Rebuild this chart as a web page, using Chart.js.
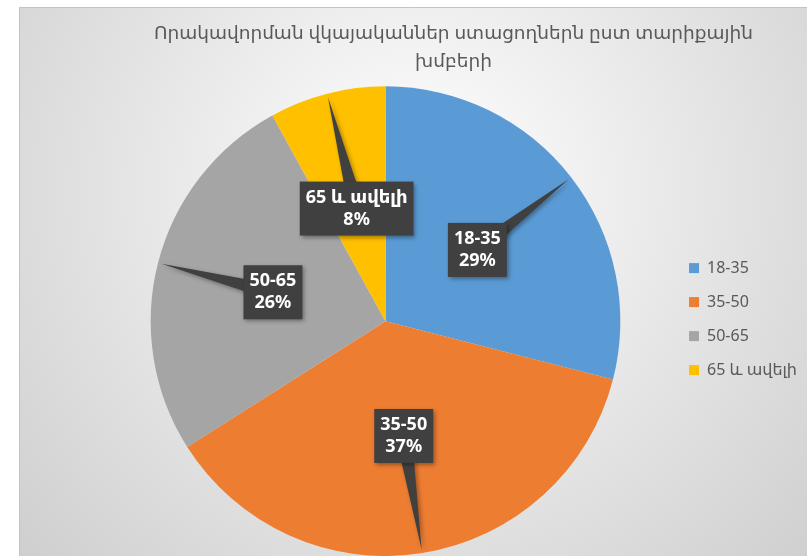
<!DOCTYPE html>
<html lang="hy">
<head>
    <script src="https://cdn.jsdelivr.net/npm/chart.js"></script>
    <meta charset="UTF-8">
    <title>Որակավորման վկայականներ</title>
    <style>
        body { margin: 0; background: #fff; }
        #wrap { width: 807px; height: 556px; }
    </style>
</head>
<body>
    <div id="wrap">
        <canvas id="myChart" width="807" height="556"></canvas>
    </div>
    <script>
        const titleLines = ['Որակավորման վկայականներ ստացողներն ըստ տարիքային', 'խմբերի'];
        const groups = ['18-35', '35-50', '50-65', '65 և ավելի'];
        const shares = [29, 37, 26, 8];
        const colors = ['#5B9BD5', '#ED7D31', '#A5A5A5', '#FFC000'];

        const fontFam = '"Noto Sans", "DejaVu Sans", sans-serif';

        // gray radial background with white margin on the left/top
        const bgPlugin = {
            id: 'bg',
            beforeDraw(chart) {
                const c = chart.ctx;
                const w = chart.width, h = chart.height;
                c.save();
                c.fillStyle = '#ffffff';
                c.fillRect(0, 0, w, h);
                const g = c.createRadialGradient(420, 190, 0, 420, 190, 560);
                g.addColorStop(0, '#ffffff');
                g.addColorStop(1, '#cdcdcd');
                c.fillStyle = g;
                c.fillRect(19, 7, w - 19, h - 7);
                c.strokeStyle = '#c4c4c4';
                c.lineWidth = 1;
                c.beginPath();
                c.moveTo(19.5, h);
                c.lineTo(19.5, 7.5);
                c.lineTo(w, 7.5);
                c.stroke();
                c.restore();
            }
        };

        // dark callout boxes with a pointer to the slice edge
        const calloutPlugin = {
            id: 'callouts',
            afterDatasetsDraw(chart) {
                const c = chart.ctx;
                const arcs = chart.getDatasetMeta(0).data;
                c.save();
                c.font = 'bold 18px ' + fontFam;
                c.textAlign = 'center';
                c.textBaseline = 'middle';
                arcs.forEach((arc, i) => {
                    const p = arc.getProps(['x', 'y', 'startAngle', 'endAngle', 'outerRadius']);
                    const mid = (p.startAngle + p.endAngle) / 2;
                    const cos = Math.cos(mid), sin = Math.sin(mid);
                    const bx = p.x + cos * p.outerRadius * 0.495;
                    const by = p.y + sin * p.outerRadius * 0.495;
                    const tx = p.x + cos * p.outerRadius * 0.985;
                    const ty = p.y + sin * p.outerRadius * 0.985;
                    const lines = [groups[i], shares[i] + '%'];
                    const tw = Math.max(...lines.map(s => c.measureText(s).width));
                    const lh = 22;
                    const bw = tw + 12, bh = lines.length * lh + 10;

                    c.shadowColor = 'rgba(0,0,0,0.35)';
                    c.shadowBlur = 4;
                    c.shadowOffsetX = 2;
                    c.shadowOffsetY = 2;
                    c.fillStyle = '#404040';
                    // pointer
                    const half = 8;
                    c.beginPath();
                    c.moveTo(bx - sin * half, by + cos * half);
                    c.lineTo(tx, ty);
                    c.lineTo(bx + sin * half, by - cos * half);
                    c.closePath();
                    c.fill();
                    // box
                    c.fillRect(bx - bw / 2, by - bh / 2, bw, bh);
                    c.shadowColor = 'transparent';

                    c.fillStyle = '#ffffff';
                    lines.forEach((s, k) => {
                        c.fillText(s, bx, by - bh / 2 + 5 + lh / 2 + k * lh);
                    });
                });
                c.restore();
            }
        };

        new Chart(document.getElementById('myChart'), {
            type: 'pie',
            data: {
                labels: groups,
                datasets: [{
                    data: shares,
                    backgroundColor: colors,
                    borderWidth: 0
                }]
            },
            options: {
                responsive: false,
                animation: false,
                layout: {
                    padding: { top: 7, left: 100, right: 0, bottom: 0 }
                },
                plugins: {
                    title: {
                        display: true,
                        text: titleLines,
                        color: '#595959',
                        font: { family: fontFam, size: 18.5, weight: 'normal', lineHeight: 1.55 },
                        padding: { top: 12, bottom: 10 }
                    },
                    legend: {
                        position: 'right',
                        title: {
                            display: true,
                            text: ' ',
                            font: { size: 1 },
                            padding: 37
                        },
                        labels: {
                            boxWidth: 10,
                            boxHeight: 10,
                            padding: 18,
                            color: '#595959',
                            font: { family: fontFam, size: 16 }
                        }
                    },
                    tooltip: { enabled: false }
                }
            },
            plugins: [bgPlugin, calloutPlugin]
        });
    </script>
</body>
</html>
